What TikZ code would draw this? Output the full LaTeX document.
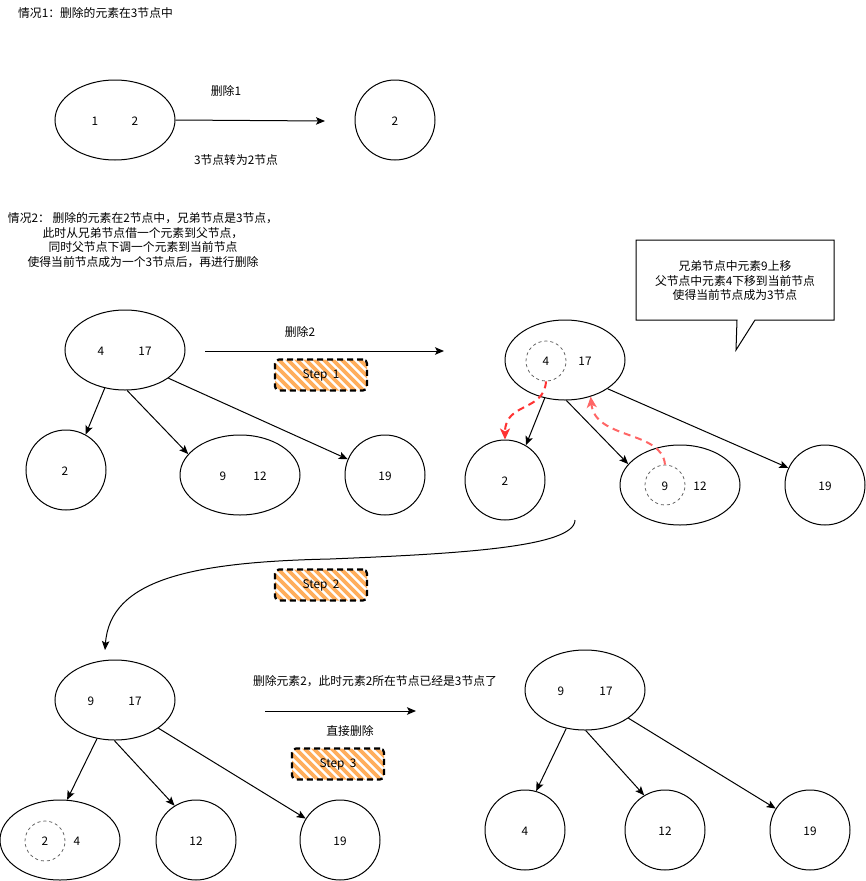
\documentclass[tikz,border=0pt]{standalone}
\usepackage{fontspec}
\setmainfont{Noto Sans CJK SC}
\usetikzlibrary{shapes.geometric,arrows.meta}
\definecolor{hatch}{HTML}{FFAE5C}
\definecolor{redA}{HTML}{FF3333}
\definecolor{redB}{HTML}{FF6666}
\definecolor{dgray}{HTML}{666666}
\begin{document}
\begin{tikzpicture}[x=1pt,y=-1pt,
  font=\fontsize{11.8}{14.5}\selectfont,
  ell/.style={draw, ellipse, minimum width=120pt, minimum height=80pt, inner sep=0pt, line width=1pt},
  circ/.style={draw, circle, minimum size=80pt, inner sep=0pt, line width=1pt},
  dcirc/.style={draw=dgray, circle, minimum size=40pt, inner sep=0pt, line width=0.8pt, dash pattern=on 3pt off 3pt},
  lbl/.style={inner sep=0pt},
  link/.style={-{Stealth[length=9pt,width=7.5pt,inset=2pt]}, line width=1pt},
  stepbox/.style={draw, line width=2.2pt, dash pattern=on 6pt off 4pt, rounded corners=4pt,
    minimum width=92pt, minimum height=31pt, inner sep=0pt,
    path picture={
      \foreach \i in {-8,...,8}
        \draw[hatch, line width=3.6pt, solid] ([xshift=\i*9pt]path picture bounding box.center) ++(-22,-22) -- ++(44,44);
    }},
  redlink/.style={line width=2pt, dash pattern=on 7pt off 5pt, -{Stealth[length=11pt,width=10pt,inset=3pt]}}
]
\useasboundingbox (0,0) rectangle (866,881);

% ---------- case 1 ----------
\node[lbl, anchor=west] (t1) at (18,13) {情况1：删除的元素在3节点中};
\node[ell] (A) at (115,120) {};
\node[lbl] (A1) at (95,121) {1};
\node[lbl] (A2) at (135,121) {2};
\node[circ] (B) at (395,120) {};
\node[lbl] (B1) at (395,121) {2};
\coordinate (a1end) at (325,121);
\draw[link] (A.east) -- (a1end);
\node[lbl] (d1) at (226,91) {删除1};
\node[lbl] (d1b) at (236,160) {3节点转为2节点};

% ---------- case 2 text ----------
\node[lbl, align=center] (t2) at (143,240) {情况2： 删除的元素在2节点中，兄弟节点是3节点，\\此时从兄弟节点借一个元素到父节点，\\同时父节点下调一个元素到当前节点\\使得当前节点成为一个3节点后，再进行删除};

% ---------- tree 1 ----------
\node[ell] (C) at (125,350) {};
\node[lbl] (C1) at (101,351) {4};
\node[lbl] (C2) at (145,351) {17};
\node[circ] (c2) at (66,470) {};
\node[lbl] (c2l) at (65,471) {2};
\node[ell] (e1) at (240,475) {};
\node[lbl] (e1a) at (223,476) {9};
\node[lbl] (e1b) at (260,476) {12};
\node[circ] (c19) at (385,475) {};
\node[lbl] (c19l) at (385,476) {19};
\draw[link] (C.242) -- (c2.61);
\draw[link] (C.273) -- (e1.158);
\draw[link] (C.327) -- (c19.157);

\coordinate (a2s) at (205,351);
\coordinate (a2e) at (444,351);
\draw[link] (a2s) -- (a2e);
\node[lbl] (d2) at (300,332) {删除2};
\node[stepbox] (s1) at (321,375) {Step\ \ 1};

% ---------- tree 2 ----------
\node[ell] (D) at (565,360) {};
\node[dcirc] (c4) at (546,361) {};
\node[lbl] (D1) at (546,361) {4};
\node[lbl] (D2) at (585,361) {17};
\node[circ] (d2c) at (505,480) {};
\node[lbl] (d2l) at (505,481) {2};
\node[ell] (d912) at (680,485) {};
\node[dcirc] (c9) at (665,485) {};
\node[lbl] (d9) at (665,486) {9};
\node[lbl] (d12) at (700,486) {12};
\node[circ] (d19) at (825,485) {};
\node[lbl] (d19l) at (825,486) {19};
\draw[link] (D.242) -- (d2c.59);
\draw[link] (D.272) -- (d912.158);
\draw[link] (D.326) -- (d19.155);

\draw[redlink, draw=redA] (c4.south) .. controls (544,412) and (505,402) .. (d2c.north);
\draw[redlink, draw=redB] (c9.north) .. controls (662,430) and (595,440) .. (D.305);

% callout
\draw[line width=1pt] (636,240) -- (834,240) -- (834,320) -- (755,320) -- (736,350) -- (737,320) -- (636,320) -- cycle;
\node[lbl, align=center] (call) at (735,281) {兄弟节点中元素9上移\\父节点中元素4下移到当前节点\\使得当前节点成为3节点};

% ---------- step 2 curve ----------
\coordinate (cs) at (575,520);
\coordinate (ce) at (105,650);
\draw[link] (cs) .. controls (575,548) and (450,554) .. (330,559) .. controls (190,562) and (110,580) .. (ce);
\node[stepbox] (s2) at (321,585) {Step\ \ 2};

% ---------- tree 3 ----------
\node[ell] (E) at (115,700) {};
\node[lbl] (E1) at (91,701) {9};
\node[lbl] (E2) at (135,701) {17};
\node[ell] (e24) at (60,840) {};
\node[dcirc] (c2b) at (45,841) {};
\node[lbl] (e24a) at (45,841) {2};
\node[lbl] (e24b) at (77,841) {4};
\node[circ] (f12) at (196,840) {};
\node[lbl] (f12l) at (196,841) {12};
\node[circ] (f19) at (340,840) {};
\node[lbl] (f19l) at (340,841) {19};
\draw[link] (E.245) -- (e24.80);
\draw[link] (E.269) -- (f12.122);
\draw[link] (E.327) -- (f19.148);

\node[lbl] (d3) at (375,681) {删除元素2，此时元素2所在节点已经是3节点了};
\coordinate (a3s) at (265,711);
\coordinate (a3e) at (416,711);
\draw[link] (a3s) -- (a3e);
\node[lbl] (d3b) at (350,731) {直接删除};
\node[stepbox] (s3) at (338,764) {Step\ \ 3};

% ---------- tree 4 ----------
\node[ell] (F) at (585,690) {};
\node[lbl] (F1) at (561,691) {9};
\node[lbl] (F2) at (606,691) {17};
\node[circ] (g4) at (525,830) {};
\node[lbl] (g4l) at (525,831) {4};
\node[circ] (g12) at (665,830) {};
\node[lbl] (g12l) at (665,831) {12};
\node[circ] (g19) at (810,830) {};
\node[lbl] (g19l) at (810,831) {19};
\draw[link] (F.244) -- (g4.74);
\draw[link] (F.271) -- (g12.121);
\draw[link] (F.327) -- (g19.148);
\end{tikzpicture}
\end{document}
